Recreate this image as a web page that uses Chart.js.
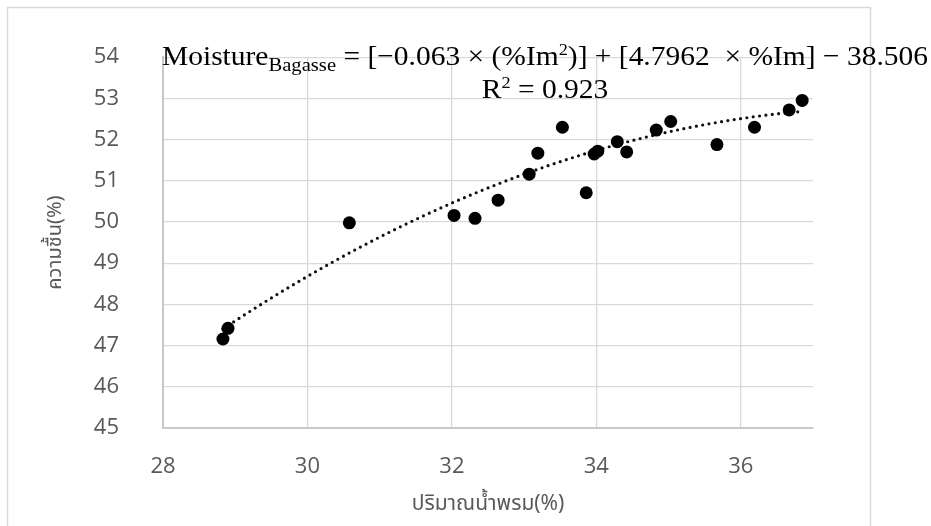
<!DOCTYPE html>
<html>
<head>
<meta charset="utf-8">
<script src="https://cdn.jsdelivr.net/npm/chart.js@4.4.1/dist/chart.umd.min.js"></script>
<style>
  html, body { margin: 0; padding: 0; background: #ffffff; }
  canvas { display: block; }
</style>
</head>
<body>
<canvas id="moistureChart" width="931" height="526"></canvas>
<script>
// ปริมาณน้ำพรม (%) และ ความชื้น (%) ของชานอ้อย
const sprayWater = [28.83, 28.9, 30.58, 32.03, 32.32, 32.64, 33.07, 33.19, 33.53, 33.86,
  33.97, 34.02, 34.29, 34.42, 34.83, 35.03, 35.67, 36.19, 36.67, 36.85];
const moisture = [47.16, 47.42, 49.98, 50.16, 50.09, 50.53, 51.16, 51.67, 52.30, 50.71,
  51.65, 51.72, 51.95, 51.70, 52.23, 52.44, 51.88, 52.30, 52.72, 52.95];

// polynomial trendline coefficients: a*x^2 + b*x + c
const trendCoef = [-0.063, 4.7962, -38.506];
const rSquared = 0.923;

const xTicks = [28, 30, 32, 34, 36];
const yTicks = [45, 46, 47, 48, 49, 50, 51, 52, 53, 54];

const xTitle = "ปริมาณน้ำพรม(%)";
const yTitle = "ความชื้น(%)";

// sample the fitted curve across the measured range
function buildTrend() {
  const lo = Math.min(...sprayWater);
  const hi = Math.max(...sprayWater);
  const pts = [];
  const n = 120;
  for (let i = 0; i <= n; i++) {
    const x = lo + (hi - lo) * i / n;
    pts.push({ x: x, y: trendCoef[0] * x * x + trendCoef[1] * x + trendCoef[2] });
  }
  return pts;
}

const tickColor = "#595959";
const gridColor = "#d9d9d9";
const thaiFont = "'Noto Sans Thai', 'Noto Sans', 'DejaVu Sans', sans-serif";

// light frame around the whole chart
const framePlugin = {
  id: "frame",
  beforeDraw(chart) {
    const ctx = chart.ctx;
    ctx.save();
    ctx.fillStyle = "#ffffff";
    ctx.fillRect(0, 0, chart.width, chart.height);
    ctx.strokeStyle = "#d9d9d9";
    ctx.lineWidth = 1.5;
    ctx.strokeRect(7.5, 7.5, 863, 600);
    ctx.restore();
  },
};

// vertical axis title, centred on the plot height
const yTitlePlugin = {
  id: "yTitle",
  afterDraw(chart) {
    const ctx = chart.ctx;
    const area = chart.chartArea;
    ctx.save();
    ctx.translate(57, (area.top + area.bottom) / 2);
    ctx.rotate(-Math.PI / 2);
    ctx.fillStyle = tickColor;
    ctx.font = "20px " + thaiFont;
    ctx.textAlign = "center";
    ctx.textBaseline = "middle";
    ctx.fillText(yTitle, 0, 0);
    ctx.restore();
  },
};

// draws a run of text pieces; "sub"/"sup" pieces are smaller and shifted
function drawRuns(ctx, runs, x, y, size, family) {
  let cx = x;
  runs.forEach(([txt, kind]) => {
    let fs = size, dy = 0;
    if (kind === "sub") { fs = size * 0.7; dy = size * 0.22; }
    if (kind === "sup") { fs = size * 0.62; dy = -size * 0.36; }
    ctx.font = fs + "px " + family;
    ctx.fillText(txt, cx, y + dy);
    cx += ctx.measureText(txt).width;
  });
  return cx - x;
}

function measureRuns(ctx, runs, size, family) {
  let w = 0;
  runs.forEach(([txt, kind]) => {
    let fs = size;
    if (kind === "sub") fs = size * 0.7;
    if (kind === "sup") fs = size * 0.62;
    ctx.font = fs + "px " + family;
    w += ctx.measureText(txt).width;
  });
  return w;
}

const equationPlugin = {
  id: "equation",
  afterDraw(chart) {
    const ctx = chart.ctx;
    const fam = "'Liberation Serif', 'DejaVu Serif', serif";
    const size = 28;
    const eq = [
      ["Moisture", ""],
      ["Bagasse", "sub"],
      [" = [\u22120.063 \u00d7 (%Im", ""],
      ["2", "sup"],
      [")] + [4.7962  \u00d7 %Im] \u2212 " + Math.abs(trendCoef[2]).toFixed(3), ""],
    ];
    const r2 = [["R", ""], ["2", "sup"], [" = " + rSquared, ""]];
    ctx.save();
    ctx.fillStyle = "#000000";
    ctx.textBaseline = "alphabetic";
    ctx.textAlign = "left";
    const x0 = 162, x1 = 928;
    const w = measureRuns(ctx, eq, size, fam);
    const sx = (x1 - x0) / w;
    ctx.save();
    ctx.translate(x0, 65);
    ctx.scale(sx, 1);
    drawRuns(ctx, eq, 0, 0, size, fam);
    ctx.restore();
    const w2 = measureRuns(ctx, r2, size, fam) * sx;
    ctx.save();
    ctx.translate(545 - w2 / 2, 98);
    ctx.scale(sx, 1);
    drawRuns(ctx, r2, 0, 0, size, fam);
    ctx.restore();
    ctx.restore();
  },
};

const ctx = document.getElementById("moistureChart").getContext("2d");

new Chart(ctx, {
  type: "scatter",
  data: {
    datasets: [
      {
        label: "ความชื้น",
        data: sprayWater.map((x, i) => ({ x: x, y: moisture[i] })),
        backgroundColor: "#000000",
        borderWidth: 0,
        pointRadius: 6.5,
        pointHoverRadius: 6.5,
        order: 0,
      },
      {
        label: "trend",
        type: "line",
        data: buildTrend(),
        borderColor: "#111111",
        borderWidth: 3.2,
        borderDash: [0, 6.4],
        borderCapStyle: "round",
        pointRadius: 0,
        fill: false,
        tension: 0,
        order: 1,
      },
    ],
  },
  options: {
    responsive: false,
    animation: false,
    layout: { padding: { left: 0, top: 41, right: 118, bottom: 0 } },
    plugins: {
      legend: { display: false },
      tooltip: { enabled: false },
    },
    scales: {
      x: {
        type: "linear",
        min: 28,
        max: 37,
        afterBuildTicks: (s) => { s.ticks = xTicks.map((v) => ({ value: v })); },
        afterFit: (s) => { s.height = 98; },
        grid: { color: gridColor, lineWidth: 1.3, drawTicks: false },
        border: { color: "#c8c8c8", width: 2 },
        ticks: {
          color: tickColor,
          padding: 26,
          font: { family: "'Open Sans', 'Noto Sans', sans-serif", size: 22 },
        },
        title: {
          display: true,
          text: xTitle,
          color: tickColor,
          padding: { top: 0, bottom: 8 },
          font: { family: thaiFont, size: 21 },
        },
      },
      y: {
        min: 45,
        max: 54,
        afterBuildTicks: (s) => { s.ticks = yTicks.map((v) => ({ value: v })); },
        afterFit: (s) => { s.width = 163; },
        grid: { color: gridColor, lineWidth: 1.3, drawTicks: false },
        border: { color: "#c8c8c8", width: 2 },
        ticks: {
          color: tickColor,
          padding: 44,
          font: { family: "'Open Sans', 'Noto Sans', sans-serif", size: 22 },
        },
        title: { display: false },
      },
    },
  },
  plugins: [framePlugin, yTitlePlugin, equationPlugin],
});
</script>
</body>
</html>
